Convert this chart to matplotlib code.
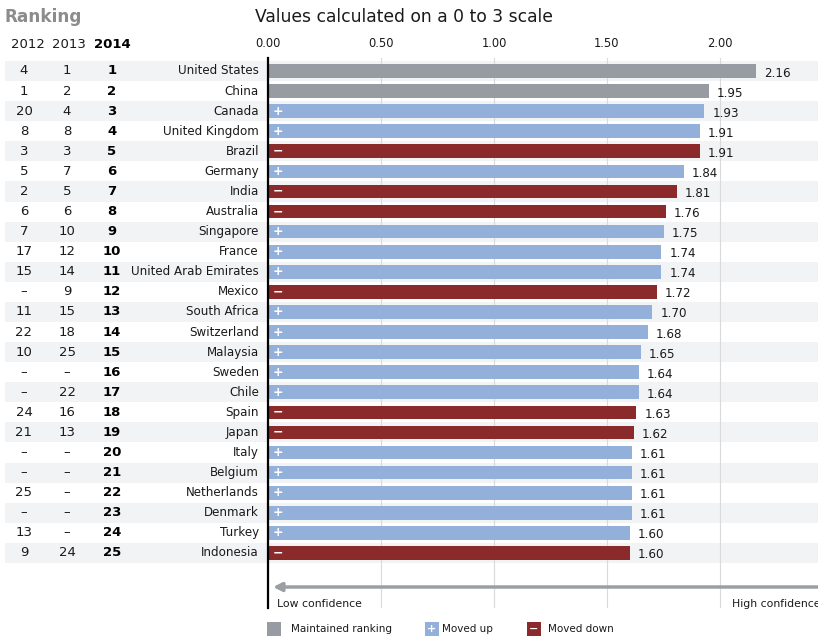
import matplotlib.pyplot as plt
import matplotlib.transforms as mtransforms
from matplotlib.patches import Rectangle

# data
countries = ["United States", "China", "Canada", "United Kingdom", "Brazil", "Germany",
             "India", "Australia", "Singapore", "France", "United Arab Emirates", "Mexico",
             "South Africa", "Switzerland", "Malaysia", "Sweden", "Chile", "Spain", "Japan",
             "Italy", "Belgium", "Netherlands", "Denmark", "Turkey", "Indonesia"]
rank_2012 = ["4", "1", "20", "8", "3", "5", "2", "6", "7", "17", "15", "–", "11", "22", "10",
             "–", "–", "24", "21", "–", "–", "25", "–", "13", "9"]
rank_2013 = ["1", "2", "4", "8", "3", "7", "5", "6", "10", "12", "14", "9", "15", "18", "25",
             "–", "22", "16", "13", "–", "–", "–", "–", "–", "24"]
rank_2014 = [str(i) for i in range(1, 26)]
values = [2.16, 1.95, 1.93, 1.91, 1.91, 1.84, 1.81, 1.76, 1.75, 1.74, 1.74, 1.72, 1.70,
          1.68, 1.65, 1.64, 1.64, 1.63, 1.62, 1.61, 1.61, 1.61, 1.61, 1.60, 1.60]
status = ["same", "same", "up", "up", "down", "up", "down", "down", "up", "up", "up", "down",
          "up", "up", "up", "up", "up", "down", "down", "up", "up", "up", "up", "up", "down"]
xticks = [0.0, 0.5, 1.0, 1.5, 2.0]

# styles
W, H = 818, 637
colors = {"same": "#979ca2", "up": "#92b0da", "down": "#8b2a2b"}
signs = {"same": "", "up": "+", "down": "\u2212"}
stripe = "#f2f3f5"
txt = "#1a1a1a"


def fx(px):
    return px / W


def fy(py):
    return 1 - py / H


fig = plt.figure(figsize=(W / 100, H / 100), dpi=100)

# bar axes: x=0 at px 268, 226 px per unit; rows start at py 71, 20.08 px apart
ax_top, ax_bot = 58, 608
x_left = 268
ppu = 226.0
row0, drow = 71.0, 20.08
ax = fig.add_axes([fx(x_left), fy(ax_bot), 1 - fx(x_left), (ax_bot - ax_top) / H])
ax.set_facecolor("none")
ax.set_xlim(0, (W - x_left) / ppu)
ax.set_ylim((ax_bot - row0) / drow, (ax_top - row0) / drow)

y = list(range(len(countries)))
ax.barh(y, values, height=0.68, color=[colors[s] for s in status], zorder=3)

for i, v in enumerate(values):
    ax.text(v + 8 / ppu, i + 0.1, f"{v:.2f}", ha="left", va="center", fontsize=8.6,
            color=txt, zorder=4)
    if signs[status[i]]:
        ax.text(0.045, i, signs[status[i]], ha="center", va="center", fontsize=9,
                fontweight="bold", color="white", zorder=4)

ax.set_xticks(xticks)
ax.set_xticklabels([f"{t:.2f}" for t in xticks])
ax.xaxis.tick_top()
ax.tick_params(axis="x", length=0, pad=6, labelsize=8.3, labelcolor=txt)
ax.set_yticks([])
for side in ["top", "right", "bottom"]:
    ax.spines[side].set_visible(False)
ax.spines["left"].set_color("black")
ax.spines["left"].set_linewidth(1.6)
ax.spines["left"].set_zorder(5)
ax.grid(axis="x", color="#d9dadc", lw=0.8, zorder=1)

# row stripes and row labels
tr = mtransforms.blended_transform_factory(fig.transFigure, ax.transData)
for i in range(len(countries)):
    if i % 2 == 0:
        fig.add_artist(Rectangle((fx(5), i - 0.5), 1 - fx(5), 1.0, transform=tr,
                                 facecolor=stripe, edgecolor="none", zorder=-2))
    fig.text(fx(259), i, countries[i], transform=tr, ha="right", va="center",
             fontsize=8.6, color=txt)
    fig.text(fx(24), i, rank_2012[i], transform=tr, ha="center", va="center",
             fontsize=9.5, color=txt)
    fig.text(fx(67), i, rank_2013[i], transform=tr, ha="center", va="center",
             fontsize=9.5, color=txt)
    fig.text(fx(112), i, rank_2014[i], transform=tr, ha="center", va="center",
             fontsize=9.5, color="black", fontweight="bold")

# headers
fig.text(fx(5), fy(17), "Ranking", ha="left", va="center", fontsize=12.2,
         fontweight="heavy", color="#8c8c8c")
fig.text(fx(255), fy(17), "Values calculated on a 0 to 3 scale", ha="left",
         va="center", fontsize=12.3, color=txt)
fig.text(fx(28), fy(45), "2012", ha="center", va="center", fontsize=9.5, color=txt)
fig.text(fx(69), fy(45), "2013", ha="center", va="center", fontsize=9.5, color=txt)
fig.text(fx(112), fy(45), "2014", ha="center", va="center", fontsize=9.5,
         fontweight="bold", color="black")

# confidence arrow
ya = (587 - row0) / drow
ax.annotate("", xy=(0.01, ya), xytext=(2.6, ya), annotation_clip=False,
            arrowprops=dict(arrowstyle="-|>,head_length=0.5,head_width=0.25",
                            color="#9b9fa4", lw=2.5), zorder=3)
yl = (604 - row0) / drow
ax.text(0.04, yl, "Low confidence", ha="left", va="center", fontsize=7.8, color=txt)
ax.text((732 - x_left) / ppu, yl, "High confidence", ha="left", va="center",
        fontsize=7.8, color=txt, clip_on=False)

# legend
leg = [(267, "same", "Maintained ranking", 291),
       (425, "up", "Moved up", 442),
       (527, "down", "Moved down", 548)]
for px, s, label, tx in leg:
    fig.add_artist(Rectangle((fx(px), fy(636)), 14 / W, 14 / H, transform=fig.transFigure,
                             facecolor=colors[s], edgecolor="none"))
    if signs[s]:
        fig.text(fx(px + 7), fy(629), signs[s], ha="center", va="center", fontsize=8,
                 fontweight="bold", color="white")
    fig.text(fx(tx), fy(629), label, ha="left", va="center", fontsize=7.5, color=txt)

fig.savefig("out.png", dpi=100)
